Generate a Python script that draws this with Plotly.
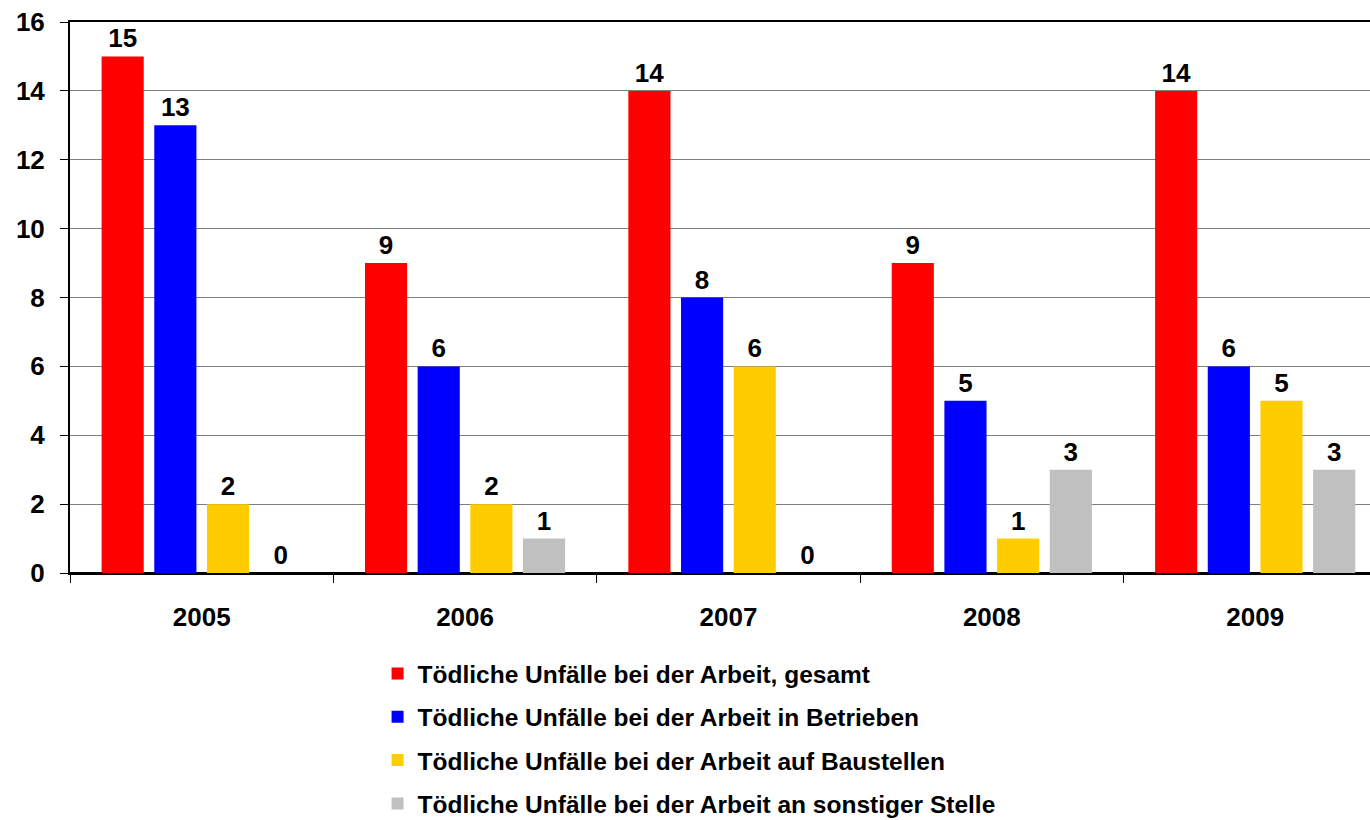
import plotly.graph_objects as go

# Data
years = ["2005", "2006", "2007", "2008", "2009"]
series_names = [
    "Tödliche Unfälle bei der Arbeit, gesamt",
    "Tödliche Unfälle bei der Arbeit in Betrieben",
    "Tödliche Unfälle bei der Arbeit auf Baustellen",
    "Tödliche Unfälle bei der Arbeit an sonstiger Stelle",
]
gesamt = [15, 9, 14, 9, 14]
betriebe = [13, 6, 8, 5, 6]
baustellen = [2, 2, 6, 1, 5]
sonstige = [0, 1, 0, 3, 3]
colors = ["#FF0000", "#0000FF", "#FFCC00", "#C0C0C0"]

FONT = "Arial, Liberation Sans, sans-serif"
bold = dict(family=FONT, size=26, color="black", weight="bold")

fig = go.Figure()

for i, (name, values) in enumerate(zip(series_names, [gesamt, betriebe, baustellen, sonstige])):
    fig.add_trace(
        go.Bar(
            x=years,
            y=values,
            name=name,
            legendgroup=f"g{i}",
            marker=dict(color=colors[i], line=dict(width=0)),
            text=[str(v) for v in values],
            textposition="outside",
            textfont=bold,
            cliponaxis=False,
        )
    )

fig.update_layout(
    width=1370,
    height=820,
    margin=dict(l=70, r=0, t=22, b=247, autoexpand=False),
    paper_bgcolor="white",
    plot_bgcolor="white",
    barmode="group",
    bargap=0.2,
    bargroupgap=0.2,
    font=dict(family=FONT, color="black"),
    legend=dict(
        x=0.2366,
        y=-0.1415,
        xanchor="left",
        yanchor="top",
        font=dict(family=FONT, size=24.5, color="black", weight="bold"),
        tracegroupgap=8.5,
        itemwidth=30,
        bgcolor="rgba(0,0,0,0)",
    ),
    showlegend=True,
)

fig.update_xaxes(
    type="category",
    range=[-0.5, 4.436],
    automargin=False,
    showline=True,
    linecolor="black",
    linewidth=2,
    mirror=True,
    ticks="outside",
    tickson="boundaries",
    ticklen=8,
    tickcolor="black",
    tickfont=bold,
    ticklabelstandoff=20,
    showgrid=False,
)

fig.update_yaxes(
    range=[0, 16],
    dtick=2,
    automargin=False,
    showline=True,
    linecolor="black",
    linewidth=2,
    ticks="outside",
    ticklen=8,
    tickcolor="black",
    tickfont=bold,
    ticklabelstandoff=10,
    showgrid=True,
    gridcolor="#808080",
    gridwidth=1,
    zeroline=True,
    zerolinecolor="black",
    zerolinewidth=2,
)

fig.write_html(
    "out.html",
    config={"displayModeBar": False},
    post_script="document.body.style.margin = '0';",
)
